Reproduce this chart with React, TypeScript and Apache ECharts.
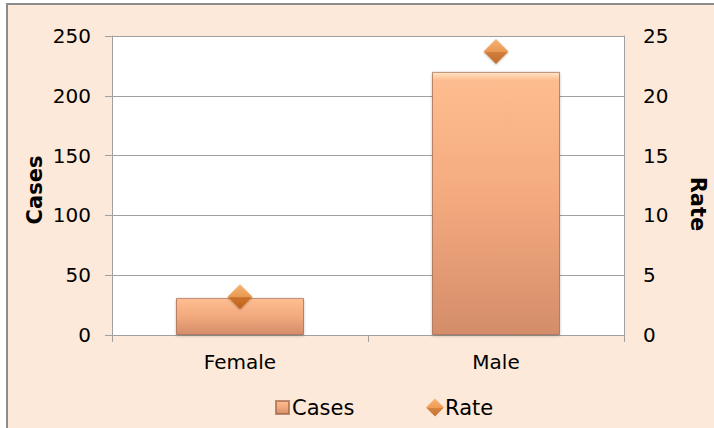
import React, { useEffect, useRef } from "react";
import * as echarts from "echarts";

const categories = ["Female", "Male"];
const casesValues = [31, 220];
const rateValues = [3.2, 23.7];
const casesTicks = { min: 0, max: 250, interval: 50 };
const rateTicks = { min: 0, max: 25, interval: 5 };

const FONT = "DejaVu Sans";
const BG = "#FDE9D9";

export default function App() {
  const ref = useRef<HTMLDivElement>(null);
  useEffect(() => {
    document.body.style.margin = "0";
    const chart = echarts.init(ref.current!, undefined, { renderer: "svg" });
    const barGrad = new echarts.graphic.LinearGradient(0, 0, 0, 1, [
      { offset: 0, color: "#FFE6C8" },
      { offset: 0.03, color: "#FDBC8F" },
      { offset: 0.5, color: "#F3A97E" },
      { offset: 1, color: "#D48D6A" },
    ]);
    const diaGrad = new echarts.graphic.LinearGradient(0, 0, 0, 1, [
      { offset: 0, color: "#F7A85A" },
      { offset: 0.5, color: "#EC8A35" },
      { offset: 0.52, color: "#CF6918" },
      { offset: 1, color: "#B5560D" },
    ]);
    chart.setOption({
      animation: false,
      backgroundColor: "#ffffff",
      graphic: [
        {
          type: "rect",
          z: -10,
          shape: { x: 7, y: 4, width: 800, height: 600 },
          style: { fill: BG, stroke: "#8C8C8C", lineWidth: 2 },
        },
        {
          type: "text",
          x: 35,
          y: 190,
          rotation: Math.PI / 2,
          style: {
            text: "Cases",
            font: `bold 21px ${FONT}`,
            fill: "#000",
            align: "center",
            verticalAlign: "middle",
          },
        },
        {
          type: "text",
          x: 698,
          y: 204,
          rotation: -Math.PI / 2,
          style: {
            text: "Rate",
            font: `bold 21px ${FONT}`,
            fill: "#000",
            align: "center",
            verticalAlign: "middle",
          },
        },
      ],
      grid: {
        left: 112,
        right: 90,
        top: 36,
        bottom: 93,
        show: true,
        backgroundColor: "#ffffff",
        borderWidth: 0,
      },
      legend: [
        {
          data: ["Cases"],
          left: 270,
          top: 392,
          itemWidth: 13,
          itemHeight: 13,
          itemGap: 4,
          icon: "rect",
          textStyle: { fontFamily: FONT, fontSize: 21, color: "#000", padding: [0, 0, 0, -2] },
        },
        {
          data: ["Rate"],
          left: 421,
          top: 392,
          itemWidth: 18,
          itemHeight: 18,
          icon: "diamond",
          textStyle: { fontFamily: FONT, fontSize: 21, color: "#000", padding: [0, 0, 0, -4] },
        },
      ],
      xAxis: {
        type: "category",
        data: categories,
        axisLine: { lineStyle: { color: "#A0A0A0", width: 1 } },
        axisTick: { show: true, length: 7, lineStyle: { color: "#A0A0A0" } },
        axisLabel: { fontFamily: FONT, fontSize: 20, color: "#000", margin: 17 },
      },
      yAxis: [
        {
          type: "value",
          ...casesTicks,
          position: "left",
          axisLine: { show: true, lineStyle: { color: "#A0A0A0" } },
          axisTick: { show: true, length: 7, lineStyle: { color: "#A0A0A0" } },
          splitLine: { lineStyle: { color: "#A0A0A0" } },
          axisLabel: { fontFamily: FONT, fontSize: 20, color: "#000", margin: 21 },
        },
        {
          type: "value",
          ...rateTicks,
          position: "right",
          axisLine: { show: true, lineStyle: { color: "#A0A0A0" } },
          axisTick: { show: false },
          splitLine: { show: false },
          axisLabel: { fontFamily: FONT, fontSize: 20, color: "#000", margin: 19 },
        },
      ],
      series: [
        {
          name: "Cases",
          type: "bar",
          data: casesValues,
          barWidth: "50%",
          yAxisIndex: 0,
          itemStyle: {
            color: barGrad,
            borderColor: "rgba(160,100,70,0.7)",
            borderWidth: 1,
            shadowColor: "rgba(0,0,0,0.25)",
            shadowBlur: 3,
            shadowOffsetY: 1,
          },
        },
        {
          name: "Rate",
          type: "scatter",
          data: rateValues,
          yAxisIndex: 1,
          symbol: "diamond",
          symbolSize: 25,
          z: 5,
          itemStyle: {
            color: diaGrad,
            shadowColor: "rgba(0,0,0,0.3)",
            shadowBlur: 2,
            shadowOffsetY: 1,
          },
        },
      ],
    });
    return () => chart.dispose();
  }, []);
  return <div ref={ref} style={{ width: 714, height: 428 }} />;
}
